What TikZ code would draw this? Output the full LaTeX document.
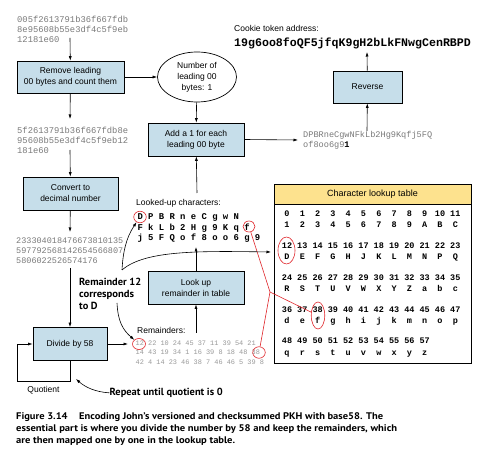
\documentclass[tikz,border=0pt]{standalone}
\usepackage{fontspec}
\setmainfont{Liberation Sans}
\setmonofont{Liberation Mono}
\newfontfamily\annotfont{PT Sans}
\usetikzlibrary{arrows.meta,shapes.geometric}
\newlength\fitlen
\newcommand\fitw[2]{\settowidth\fitlen{#2}\pgfmathsetmacro\fitfac{#1/\fitlen}\scalebox{\fitfac}[1]{#2}}
\definecolor{boxblue}{HTML}{C6DEEA}
\definecolor{hdryellow}{HTML}{FDE28E}
\definecolor{hexgray}{HTML}{7A7A7A}
\definecolor{remgray}{HTML}{9A9A9A}
\definecolor{circred}{HTML}{E0262B}
\tikzset{
  procbox/.style={draw=black, fill=boxblue, line width=0.7pt, align=center,
    font=\fontsize{8.5}{11}\selectfont, inner sep=0pt},
  arr/.style={-{Latex[length=4.5pt,width=3pt]}, line width=0.6pt},
  plain/.style={line width=0.6pt},
  hextext/.style={anchor=base west, inner sep=0pt, font=\ttfamily\fontsize{8.8}{10}\selectfont, text=hexgray},
  remtext/.style={anchor=base west, inner sep=0pt, font=\ttfamily\fontsize{6.9}{9}\selectfont, text=remgray},
  lookchars/.style={anchor=base west, inner sep=0pt, font=\ttfamily\bfseries\fontsize{8.9}{10}\selectfont},
  label/.style={anchor=base west, inner sep=0pt, font=\fontsize{8.5}{10}\selectfont},
  annot/.style={anchor=base west, inner sep=0pt, font=\annotfont\bfseries\fontsize{10.3}{12}\selectfont},
  captext/.style={anchor=base west, inner sep=0pt, font=\annotfont\bfseries\fontsize{9.6}{11}\selectfont},
  tabnum/.style={anchor=base, inner sep=0pt, font=\ttfamily\bfseries\fontsize{8.5}{10}\selectfont},
  redcirc/.style={draw=circred, ellipse, line width=0.6pt, inner sep=0pt},
  redline/.style={draw=circred, line width=0.6pt}
}
\begin{document}
\begin{tikzpicture}[x=1pt,y=-1pt]
\useasboundingbox[fill=white] (0,0) rectangle (493,462);

% top-left hex
\node[hextext] (hexA1) at (17,23) {005f2613791b36f667fdb};
\node[hextext] (hexA2) at (17,33) {8e95608b55e3df4c5f9eb};
\node[hextext] (hexA3) at (17,43) {12181e60};
\coordinate (hexAout) at (70,38);

\node[procbox, minimum width=107pt, minimum height=32pt] (remove) at (70.5,77) {Remove leading\\00 bytes and count them};
\node[draw=black, fill=white, ellipse, line width=0.7pt, align=center, inner sep=0pt,
  minimum width=79pt, minimum height=50pt, font=\fontsize{8.5}{11}\selectfont] (count) at (197,77) {Number of\\leading 00\\bytes: 1};
\node[procbox, minimum width=96pt, minimum height=33pt] (add) at (196,139.5) {Add a 1 for each\\leading 00 byte};
\node[procbox, minimum width=69pt, minimum height=32pt] (reverse) at (367.5,87) {Reverse};

% cookie address
\node[label] (cookielbl) at (234,32) {Cookie token address:};
\node[anchor=base west, inner sep=0pt, font=\ttfamily\bfseries\fontsize{11.6}{13}\selectfont] (address) at (234,46.5) {19g6oo8foQF5jfqK9gH2bLkFNwgCenRBPD};
\coordinate (addrIn) at (367,52);

% reversed string
\node[hextext, font=\ttfamily\fontsize{8.6}{10}\selectfont] (dpb1) at (303,137.5) {DPBRneCgwNFkLb2Hg9Kqfj5FQ};
\node[hextext, font=\ttfamily\fontsize{8.6}{10}\selectfont] (dpb2) at (303,147.5) {of8oo6g9\textcolor{black}{\bfseries 1}};
\coordinate (dpbIn) at (298,140);
\coordinate (dpbOut) at (367,131);

% second hex
\coordinate (hexBin) at (70,119);
\node[hextext] (hexB1) at (17,134) {5f2613791b36f667fdb8e};
\node[hextext] (hexB2) at (17,144) {95608b55e3df4c5f9eb12};
\node[hextext] (hexB3) at (17,154) {181e60};
\coordinate (hexBout) at (70,150);

\node[procbox, minimum width=95pt, minimum height=33pt] (convert) at (70.5,193.5) {Convert to\\decimal number};
\coordinate (decIn) at (70,232);
\node[hextext, font=\ttfamily\fontsize{8.5}{10}\selectfont] (dec1) at (16,244) {233304018476673810135};
\node[hextext, font=\ttfamily\fontsize{8.5}{10}\selectfont] (dec2) at (16,254) {597792568142654566807};
\node[hextext, font=\ttfamily\fontsize{8.5}{10}\selectfont] (dec3) at (16,264) {5806022526574176};
\coordinate (decOut) at (70,268);

\node[procbox, minimum width=74pt, minimum height=33pt] (divide) at (70,344) {Divide by 58};
\coordinate (loopA) at (70,381);
\coordinate (loopB) at (17,381);
\coordinate (loopC) at (17,344);
\node[font=\fontsize{8.5}{10}\selectfont, inner sep=0pt] (quot) at (43.5,390.5) {Quotient};

% remainders
\node[label] (remlbl) at (137,334) {Remainders:};
\coordinate (remIn) at (128,344);
\node[remtext] (rem1) at (135.5,345.5) {12 22 10 24 45 37 11 39 54 21};
\node[remtext] (rem2) at (135.5,355) {14 43 19 34 1 16 39 8 18 48 38};
\node[remtext] (rem3) at (135.5,364.5) {42 4 14 23 46 38 7 46 46 5 39 8};
\coordinate (remOut) at (196,333);

\node[procbox, minimum width=96pt, minimum height=33pt] (lookup) at (196,287.5) {Look up\\remainder in table};
\coordinate (charsIn) at (196,247);
\coordinate (charsOut) at (197,193);

% looked-up characters
\node[label] (looklbl) at (136,206) {Looked-up characters:};
\node[lookchars] (lk1) at (137.3,220) {D P B R n e C g w N};
\node[lookchars] (lk2) at (137.3,231) {F k L b 2 H g 9 K q f};
\node[lookchars] (lk3) at (137.3,241) {j 5 F Q o f 8 o o 6 g 9};

% annotations
\node[annot] (ann1) at (79,285.5) {\fitw{62pt}{Remainder 12}};
\node[annot] (ann2) at (79,297.5) {\fitw{55pt}{corresponds}};
\node[annot] (ann3) at (79,309.5) {\fitw{18.5pt}{to D}};
\coordinate (annTop) at (122,270);
\coordinate (annBot) at (117,303);
\coordinate (tabIn) at (271,252);
\node[annot] (repeat) at (109.5,395.5) {\fitw{113pt}{Repeat until quotient is 0}};
\coordinate (loopPt) at (76,379);

% lookup table
\fill[hdryellow] (274,184) rectangle (471,204);
\draw[line width=0.8pt] (274,204) -- (471,204);
\node[draw=black, line width=0.8pt, minimum width=197pt, minimum height=179pt, inner sep=0pt] (table) at (372.5,273.5) {};
\node[font=\fontsize{9}{10}\selectfont, inner sep=0pt] (tabtitle) at (372.5,194) {Character lookup table};
\foreach \ch [count=\k from 0] in {1,2,3,4,5,6,7,8,9,A,B,C,D,E,F,G,H,J,K,L,M,N,P,Q,R,S,T,U,V,W,X,Y,Z,a,b,c,d,e,f,g,h,i,j,k,m,n,o,p,q,r,s,t,u,v,w,x,y,z}{
  \pgfmathtruncatemacro\col{mod(\k,12)}
  \pgfmathtruncatemacro\row{\k/12}
  \node[tabnum] (num\k) at ({287+15.3*\col},{216.7+31.8*\row}) {\k};
  \node[tabnum] (chr\k) at ({287+15.3*\col},{227.9+31.8*\row}) {\ch};
}

% red circles
\node[redcirc, minimum width=12.5pt, minimum height=11.5pt] (cD) at (140,217) {};
\node[redcirc, minimum width=12pt, minimum height=11pt] (cf) at (249,226.5) {};
\node[redcirc, minimum width=13pt, minimum height=11pt] (crem12) at (139,344) {};
\node[redcirc, minimum width=12.5pt, minimum height=11.5pt] (crem38) at (259,352.5) {};
\node[redcirc, minimum width=17pt, minimum height=27pt] (ct12) at (286.5,250.5) {};
\node[redcirc, minimum width=13.5pt, minimum height=27pt] (ct38) at (318,315.5) {};
\coordinate (junc) at (270,292);
\draw[redline] (cf) -- (junc);
\draw[redline] (junc) -- (crem38);
\draw[redline] (junc) -- (ct38);

% flow arrows
\draw[arr] (hexAout) -- (remove);
\draw[arr] (remove) -- (count);
\draw[arr] (count) -- (add);
\draw[arr] (add.east) -- (dpbIn);
\draw[arr] (dpbOut) -- (reverse);
\draw[arr] (reverse) -- (addrIn);
\draw[arr] (remove) -- (hexBin);
\draw[arr] (hexBout) -- (convert);
\draw[arr] (convert) -- (decIn);
\draw[arr] (decOut) -- (divide);
\draw[plain] (divide.south) -- (loopA) -- (loopB) -- (loopC);
\draw[arr] (loopC) -- (divide.west);
\draw[arr] (divide.east) -- (remIn);
\draw[arr] (remOut) -- (lookup);
\draw[arr] (lookup) -- (charsIn);
\draw[arr] (charsOut) -- (add);

% curved annotation arrows
\draw[arr] (annTop) .. controls (123,252) and (126,238) .. (cD);
\draw[arr] (annTop) .. controls (145,250) and (200,251) .. (tabIn);
\draw[arr] (annBot) .. controls (118,322) and (123,330) .. (crem12);
\draw[arr] (repeat.west) .. controls (95,392) and (85,387) .. (loopPt);

% caption
\node[captext] (cap1) at (16,420) {\fitw{367pt}{Figure 3.14\hspace{1.1em}Encoding John’s versioned and checksummed PKH with base58. The}};
\node[captext] (cap2) at (16,431.5) {\fitw{381pt}{essential part is where you divide the number by 58 and keep the remainders, which}};
\node[captext] (cap3) at (16,443) {\fitw{219pt}{are then mapped one by one in the lookup table.}};
\end{tikzpicture}
\end{document}
